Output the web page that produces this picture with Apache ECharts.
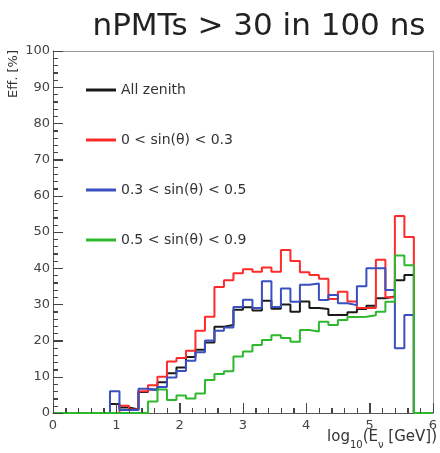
<!DOCTYPE html>
<html>
<head>
<meta charset="utf-8">
<title>nPMTs > 30 in 100 ns</title>
<script src="https://cdn.jsdelivr.net/npm/echarts@6/dist/echarts.min.js"></script>
<style>
  html, body { margin: 0; padding: 0; background: #fff; }
  #chart { width: 440px; height: 453px; }
</style>
</head>
<body>
<div id="chart"></div>
<script>
// histogram bins: 40 bins of 0.15 in log10(E) from 0 to 6
let binWidth = 0.15;
let nBins = 40;

let seriesNames = ['All zenith', '0 < sin(\u03b8) < 0.3', '0.3 < sin(\u03b8) < 0.5', '0.5 < sin(\u03b8) < 0.9'];

// efficiency [%] per bin
let allZenith = [0, 0, 0, 0, 0, 0, 2.5, 1.5, 1, 5.8,
  6.5, 8.5, 11, 12.6, 15.5, 17.5, 19.5, 23.8, 24.3, 28.5,
  29.2, 28.3, 31, 28.8, 30, 28, 30.8, 29, 28.7, 27.1,
  27.1, 27.8, 28.7, 29.6, 31.7, 32.2, 36.7, 38.1, 0, 0];
let sin0to03 = [0, 0, 0, 0, 0, 0, 0, 2, 1, 6,
  7.7, 10, 14.2, 15.2, 17.2, 22.7, 26.6, 34.8, 36.7, 38.6,
  39.7, 39, 40.2, 39, 45, 42, 38.9, 38.1, 37.1, 31.5,
  33.5, 30.8, 29, 29, 42.3, 32, 54.4, 48.6, 0, 0];
let sin03to05 = [0, 0, 0, 0, 0, 0, 6, 0.8, 0.8, 6.7,
  6.3, 7.2, 9.8, 11.6, 14.4, 16.8, 20, 22.7, 23.6, 29.3,
  31.3, 29, 36.4, 29.3, 34.4, 30.7, 35.4, 35.8, 31.2, 32.6,
  30.3, 29.8, 35, 40, 40, 34, 17.9, 27.1, 0, 0];
let sin05to09 = [0, 0, 0, 0, 0, 0, 0, 0, 0, 0,
  3.2, 6.5, 3.6, 4.8, 4, 5.4, 9.1, 10.8, 11.5, 15.6,
  17, 18.8, 20.2, 21.5, 20.7, 19.7, 22.9, 22.5, 25.2, 24.3,
  25.7, 26.5, 26.6, 27, 28, 30.7, 43.5, 40.8, 0, 0];

// axis ranges and tick spacing
let xMin = 0, xMax = 6, xStep = 1;
let yMin = 0, yMax = 100, yStep = 10;
let minorSplit = 5;

let colors = ['#1a1a1a', '#ff2a2a', '#3a50c0', '#2eb82e'];

// turn bin contents into [leftEdge, value] pairs, plus the closing edge
function toSteps(values) {
  let pts = [];
  for (let i = 0; i < nBins; i++) {
    pts.push([+(i * binWidth).toFixed(2), values[i]]);
  }
  pts.push([+(nBins * binWidth).toFixed(2), values[nBins - 1]]);
  return pts;
}

// tick list for the frame: [value, axis (0 = x, 1 = y), major?]
function tickList() {
  let list = [];
  let dx = xStep / minorSplit, dy = yStep / minorSplit;
  for (let i = 0; i <= Math.round((xMax - xMin) / dx); i++) {
    list.push([+(xMin + i * dx).toFixed(3), 0, i % minorSplit === 0 ? 1 : 0]);
  }
  for (let j = 0; j <= Math.round((yMax - yMin) / dy); j++) {
    list.push([+(yMin + j * dy).toFixed(3), 1, j % minorSplit === 0 ? 1 : 0]);
  }
  return list;
}

let font = '"DejaVu Sans", sans-serif';
let chart = echarts.init(document.getElementById('chart'));

let allData = [allZenith, sin0to03, sin03to05, sin05to09];
let series = allData.map(function (vals, k) {
  return {
    name: seriesNames[k],
    type: 'line',
    step: 'end',
    showSymbol: false,
    data: toSteps(vals),
    lineStyle: { color: colors[k], width: 2 },
    itemStyle: { color: colors[k] },
    z: 2 + k
  };
});

// inside ticks (ROOT style), placed through the axis scales
series.push({
  type: 'custom',
  silent: true,
  clip: false,
  z: 10,
  encode: { x: -1, y: -1 },
  data: tickList(),
  renderItem: function (params, api) {
    let v = api.value(0);
    let isY = api.value(1) === 1;
    let len = api.value(2) === 1 ? 10 : 5;
    let p, shape;
    if (isY) {
      p = api.coord([xMin, v]);
      let y = Math.round(p[1]) + 0.5;
      shape = { x1: p[0], y1: y, x2: p[0] + len, y2: y };
    } else {
      p = api.coord([v, yMin]);
      let x = Math.round(p[0]) + 0.5;
      shape = { x1: x, y1: p[1], x2: x, y2: p[1] - len };
    }
    return {
      type: 'line',
      shape: shape,
      style: { stroke: '#444', lineWidth: 1 }
    };
  }
});

function axisStyle(margin) {
  return {
    axisLine: { show: true, onZero: false, lineStyle: { color: '#555' } },
    axisTick: { show: true, inside: true, length: 10, lineStyle: { color: '#444', width: 1 } },
    minorTick: { show: true, splitNumber: minorSplit, length: 5, lineStyle: { color: '#444', width: 1 } },
    axisLabel: { fontSize: 13, color: '#444', margin: margin, fontFamily: font },
    splitLine: { show: false }
  };
}

// top / right frame lines only
function frameAxis() {
  return {
    axisLine: { show: true, onZero: false, lineStyle: { color: '#999' } },
    axisTick: { show: false },
    minorTick: { show: false },
    axisLabel: { show: false },
    splitLine: { show: false }
  };
}

let option = {
  animation: false,
  color: colors,
  textStyle: { fontFamily: font },
  grid: { left: 53, right: 3, top: 51, bottom: 40 },
  legend: {
    orient: 'vertical',
    left: 81,
    top: 78,
    icon: 'rect',
    itemWidth: 30,
    itemHeight: 3,
    itemGap: 36,
    textStyle: { fontFamily: font, fontSize: 14, color: '#333', lineHeight: 14 },
    data: seriesNames
  },
  xAxis: [
    Object.assign({ type: 'value', min: xMin, max: xMax, interval: xStep, position: 'bottom' }, axisStyle(6)),
    Object.assign({ type: 'value', min: xMin, max: xMax, interval: xStep, position: 'top' }, frameAxis())
  ],
  yAxis: [
    Object.assign({ type: 'value', min: yMin, max: yMax, interval: yStep, position: 'left' }, axisStyle(3)),
    Object.assign({ type: 'value', min: yMin, max: yMax, interval: yStep, position: 'right' }, frameAxis())
  ],
  graphic: [
    {
      type: 'text',
      x: 259, y: 42,
      style: {
        text: 'nPMTs > 30 in 100 ns',
        fontSize: 31, fontFamily: font, fill: '#222',
        textAlign: 'center', textVerticalAlign: 'bottom'
      }
    },
    {
      // y axis title, reading upward
      type: 'text',
      x: 14, y: 50,
      rotation: Math.PI / 2,
      style: {
        text: 'Eff. [%]',
        fontSize: 13, fontFamily: font, fill: '#333',
        textAlign: 'right', textVerticalAlign: 'middle'
      }
    },
    {
      // x axis title with subscripts
      type: 'text',
      x: 437, y: 430,
      style: {
        text: '{m|log}{s|10}{m|(E}{s|\u03bd}{m| [GeV])}',
        textAlign: 'right', textVerticalAlign: 'top',
        fill: '#333',
        rich: {
          m: { fontSize: 15, fontFamily: font, fill: '#333', lineHeight: 20, verticalAlign: 'top' },
          s: { fontSize: 10, fontFamily: font, fill: '#333', lineHeight: 10, verticalAlign: 'bottom' }
        }
      }
    }
  ],
  series: series
};

chart.setOption(option);
</script>
</body>
</html>
